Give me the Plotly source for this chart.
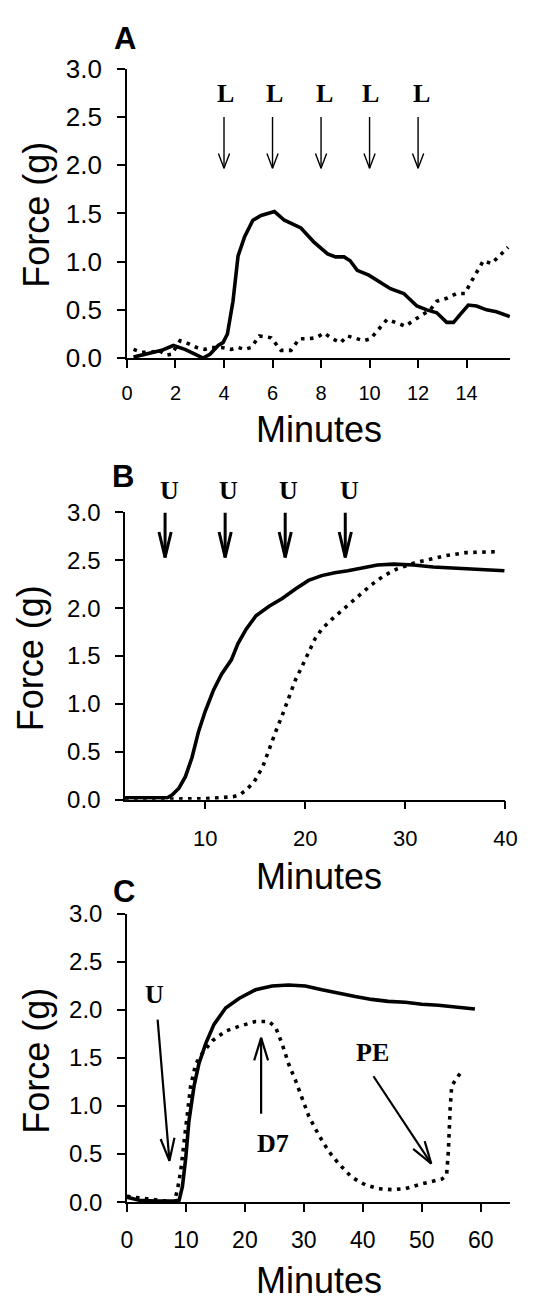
import math
import plotly.graph_objects as go

PAGE_W, PAGE_H = 538, 1314
OFF = 8  # default body margin of the html page
W, H = PAGE_W - 2 * OFF, PAGE_H - 2 * OFF

# ---------------- data ----------------
a_solid_min = [0.27, 0.75, 1.43, 1.91, 2.39, 2.8, 3.14, 3.42, 3.76, 3.96,
               4.14, 4.37, 4.58, 4.85, 5.19, 5.53, 6.08, 6.49, 7.17, 7.72,
               8.27, 8.6, 8.95, 9.2, 9.49, 9.97, 10.45, 10.86, 11.41, 11.95,
               12.36, 12.77, 13.18, 13.46, 13.73, 14.07, 14.41, 14.82, 15.23, 15.78]
a_solid_force = [0.01, 0.04, 0.08, 0.13, 0.09, 0.04, 0.0, 0.04, 0.13, 0.16,
                 0.25, 0.59, 1.06, 1.26, 1.43, 1.48, 1.52, 1.43, 1.35, 1.20,
                 1.08, 1.05, 1.05, 1.01, 0.91, 0.86, 0.79, 0.72, 0.67, 0.54,
                 0.50, 0.47, 0.37, 0.37, 0.45, 0.55, 0.54, 0.50, 0.48, 0.43]
a_dot_min = [0.27, 0.61, 1.02, 1.30, 1.64, 1.84, 2.19, 2.53, 2.87, 3.21,
             3.48, 3.89, 4.3, 4.58, 4.85, 5.12, 5.46, 5.94, 6.35, 6.76,
             7.10, 7.45, 7.79, 8.13, 8.47, 8.81, 9.08, 9.49, 9.77, 10.04,
             10.38, 10.72, 11.07, 11.48, 11.75, 12.09, 12.5, 12.77, 13.18, 13.59,
             13.93, 14.14, 14.41, 14.69, 15.03, 15.37, 15.71]
a_dot_force = [0.09, 0.06, 0.06, 0.08, 0.03, 0.04, 0.18, 0.15, 0.11, 0.09,
               0.11, 0.11, 0.09, 0.11, 0.09, 0.11, 0.23, 0.21, 0.08, 0.08,
               0.20, 0.20, 0.21, 0.26, 0.20, 0.16, 0.23, 0.20, 0.18, 0.20,
               0.30, 0.40, 0.37, 0.33, 0.38, 0.43, 0.50, 0.59, 0.62, 0.67,
               0.67, 0.77, 0.89, 1.01, 0.98, 1.06, 1.15]
a_ticks = [0, 2, 4, 6, 8, 10, 12, 14]
a_arrow_min = [4, 6, 8, 10, 12]
a_arrow_from = 2.5
a_arrow_to = 1.97
a_label_min = [4.07, 6.07, 8.16, 10.04, 12.16]
a_label_y = 2.74
a_label_text = ["L", "L", "L", "L", "L"]

b_solid_min = [2.0, 6.23, 6.72, 7.38, 8.03, 8.69, 9.34, 10.0, 10.82, 11.64,
               12.62, 13.28, 14.1, 15.08, 16.39, 17.7, 19.02, 20.33, 21.64, 22.95,
               24.26, 25.57, 27.21, 28.85, 30.82, 32.79, 34.75, 36.72, 38.69, 39.9]
b_solid_force = [0.02, 0.02, 0.05, 0.12, 0.24, 0.44, 0.71, 0.92, 1.14, 1.31,
                 1.46, 1.63, 1.78, 1.92, 2.02, 2.10, 2.20, 2.29, 2.34, 2.37,
                 2.39, 2.42, 2.45, 2.46, 2.45, 2.43, 2.42, 2.41, 2.40, 2.39]
b_dot_min = [2.0, 9.84, 12.79, 13.44, 14.1, 14.92, 15.74, 16.39, 17.05, 17.7,
             18.36, 19.02, 19.67, 20.33, 20.98, 21.64, 22.62, 23.93, 25.25, 26.56,
             27.87, 29.18, 30.82, 32.46, 34.1, 36.07, 38.03, 39.34]
b_dot_force = [0.0, 0.01, 0.03, 0.05, 0.10, 0.19, 0.34, 0.53, 0.71, 0.88,
               1.07, 1.25, 1.39, 1.53, 1.68, 1.78, 1.88, 2.00, 2.12, 2.24,
               2.34, 2.41, 2.47, 2.51, 2.55, 2.58, 2.59, 2.59]
b_ticks = [10, 20, 30, 40]
b_arrow_min = [6, 12, 18, 24]
b_arrow_from = 3.0
b_arrow_to = 2.53
b_label_min = [6.4, 12.35, 18.3, 24.4]
b_label_y = 3.23
b_label_text = ["U", "U", "U", "U"]

c_solid_min = [0, 2.08, 4.9, 8.0, 8.85, 9.4, 9.97, 10.5, 11.38, 12.2,
               13.35, 14.76, 16.73, 18.99, 21.8, 24.6, 27.4, 30.25, 33.07, 35.9,
               38.7, 41.5, 44.3, 47.2, 50.0, 52.8, 55.6, 59.0]
c_solid_force = [0.05, 0.02, 0.01, 0.01, 0.02, 0.16, 0.46, 0.84, 1.21, 1.44,
                 1.65, 1.85, 2.02, 2.12, 2.21, 2.25, 2.26, 2.25, 2.21, 2.17,
                 2.14, 2.11, 2.09, 2.08, 2.06, 2.05, 2.03, 2.01]
c_dot_min = [0, 8.0, 8.56, 9.13, 9.69, 10.25, 10.8, 11.66, 12.79, 14.48,
             16.73, 19.0, 21.8, 24.06, 25.2, 26.3, 27.4, 28.56, 29.7, 30.8,
             32.5, 34.2, 35.9, 38.1, 40.4, 42.6, 44.9, 47.2, 49.4, 51.7,
             53.4, 54.2, 54.5, 54.8, 55.07, 55.9, 57.0]
c_dot_force = [0.06, 0.0, 0.13, 0.33, 0.63, 0.94, 1.21, 1.44, 1.55, 1.68,
               1.78, 1.83, 1.88, 1.88, 1.82, 1.65, 1.44, 1.27, 1.07, 0.90,
               0.70, 0.53, 0.40, 0.26, 0.18, 0.14, 0.13, 0.14, 0.18, 0.21,
               0.24, 0.28, 0.53, 0.97, 1.21, 1.29, 1.38]
c_ticks = [0, 10, 20, 30, 40, 50, 60]
c_arrow_tail = [(5.2, 1.90), (22.75, 0.92), (41.8, 1.31)]
c_arrow_tip = [(7.2, 0.43), (22.75, 1.71), (51.6, 0.40)]
c_label_pos = [(4.6, 2.16), (24.7, 0.61), (41.7, 1.56)]
c_label_text = ["U", "D7", "PE"]

y_ticks = [0, 0.5, 1.0, 1.5, 2.0, 2.5, 3.0]

# page-pixel geometry of each plot area
panels = {
    "A": dict(x0=125, x1=522, y0=351, y1=55, xr=(0, 15.8)),
    "B": dict(x0=123, x1=517, y0=803, y1=509, xr=(2, 40)),
    "C": dict(x0=125, x1=522, y0=1215, y1=920, xr=(0, 65)),
}
yr = (0, 3.0)


def px2paper(px, py):
    return (px - OFF) / W, 1 - (py - OFF) / H


def to_paper(p, x, y):
    g = panels[p]
    px = g["x0"] + (x - g["xr"][0]) / (g["xr"][1] - g["xr"][0]) * (g["x1"] - g["x0"])
    py = g["y0"] + (y - yr[0]) / (yr[1] - yr[0]) * (g["y1"] - g["y0"])
    return px2paper(px, py)


def scales(p):
    g = panels[p]
    sx = (g["x1"] - g["x0"]) / (g["xr"][1] - g["xr"][0])
    sy = (g["y0"] - g["y1"]) / (yr[1] - yr[0])
    return sx, sy


def arrow_xy(p, tails, tips, head_len, head_half):
    sx, sy = scales(p)
    xs, ys = [], []
    for (x0, y0), (x1, y1) in zip(tails, tips):
        dxp, dyp = (x1 - x0) * sx, (y1 - y0) * sy
        L = math.hypot(dxp, dyp)
        ux, uy = dxp / L, dyp / L
        bx, by = -ux * head_len, -uy * head_len
        lx, ly = bx - uy * head_half, by + ux * head_half
        rx, ry = bx + uy * head_half, by - ux * head_half
        xs += [x0, x1, None, x1 + lx / sx, x1, x1 + rx / sx, None]
        ys += [y0, y1, None, y1 + ly / sy, y1, y1 + ry / sy, None]
    return xs, ys


fig = go.Figure()
solid = dict(color="black", width=3.6)
dotted = dict(color="black", width=3.6, dash="3.6px,5.4px")

fig.add_trace(go.Scatter(x=a_dot_min, y=a_dot_force, mode="lines", line=dotted, xaxis="x", yaxis="y"))
fig.add_trace(go.Scatter(x=a_solid_min, y=a_solid_force, mode="lines", line=solid, xaxis="x", yaxis="y"))
ax_, ay_ = arrow_xy("A", [(m, a_arrow_from) for m in a_arrow_min],
                    [(m, a_arrow_to) for m in a_arrow_min], 15, 5.8)
fig.add_trace(go.Scatter(x=ax_, y=ay_, mode="lines", line=dict(color="black", width=1.4), xaxis="x", yaxis="y"))

fig.add_trace(go.Scatter(x=b_dot_min, y=b_dot_force, mode="lines", line=dotted, xaxis="x2", yaxis="y2"))
fig.add_trace(go.Scatter(x=b_solid_min, y=b_solid_force, mode="lines", line=solid, xaxis="x2", yaxis="y2"))
bx_, by_ = arrow_xy("B", [(m, b_arrow_from) for m in b_arrow_min],
                    [(m, b_arrow_to) for m in b_arrow_min], 26, 6.3)
fig.add_trace(go.Scatter(x=bx_, y=by_, mode="lines", line=dict(color="black", width=3), xaxis="x2", yaxis="y2"))

fig.add_trace(go.Scatter(x=c_dot_min, y=c_dot_force, mode="lines", line=dotted, xaxis="x3", yaxis="y3"))
fig.add_trace(go.Scatter(x=c_solid_min, y=c_solid_force, mode="lines", line=solid, xaxis="x3", yaxis="y3"))
cx_, cy_ = arrow_xy("C", c_arrow_tail, c_arrow_tip, 23, 7.2)
fig.add_trace(go.Scatter(x=cx_, y=cy_, mode="lines", line=dict(color="black", width=2.2), xaxis="x3", yaxis="y3"))


def xaxis_cfg(p, ticks, fsize, standoff):
    g = panels[p]
    return dict(domain=[(g["x0"] - OFF) / W, (g["x1"] - OFF) / W], range=list(g["xr"]),
                tickmode="array", tickvals=ticks, ticktext=[str(t) for t in ticks],
                ticks="outside", ticklen=8, tickwidth=1.5, tickcolor="black",
                showline=True, linewidth=1.5, linecolor="black",
                showgrid=False, zeroline=False, ticklabelstandoff=standoff,
                tickfont=dict(family="Liberation Sans, Arial", size=fsize, color="black"))


def yaxis_cfg(p, fsize, anchor):
    g = panels[p]
    return dict(domain=[1 - (g["y0"] - OFF) / H, 1 - (g["y1"] - OFF) / H], range=list(yr),
                tickmode="array", tickvals=y_ticks, ticktext=[f"{v:.1f}" for v in y_ticks],
                ticks="outside", ticklen=8, tickwidth=1.5, tickcolor="black",
                showline=True, linewidth=1.5, linecolor="black",
                showgrid=False, zeroline=False, anchor=anchor, ticklabelstandoff=10,
                tickfont=dict(family="Liberation Sans, Arial", size=fsize, color="black"))


annotations = []
sans = "Liberation Sans, Arial"
serif = "Liberation Serif, Times New Roman"


def pix_ann(text, px, py, size, family=sans, angle=0):
    xp, yp = px2paper(px, py)
    annotations.append(dict(text=text, x=xp, y=yp, xref="paper", yref="paper",
                            showarrow=False, xanchor="center", yanchor="middle",
                            textangle=angle, font=dict(family=family, size=size, color="black")))


def data_ann(p, text, x, y, size):
    xp, yp = to_paper(p, x, y)
    annotations.append(dict(text=f"<b>{text}</b>", x=xp, y=yp, xref="paper", yref="paper",
                            showarrow=False, xanchor="center", yanchor="middle",
                            font=dict(family=serif, size=size, color="black")))


for m, t in zip(a_label_min, a_label_text):
    data_ann("A", t, m, a_label_y, 26)
for m, t in zip(b_label_min, b_label_text):
    data_ann("B", t, m, b_label_y, 26)
for (x, y), t in zip(c_label_pos, c_label_text):
    data_ann("C", t, x, y, 26)

pix_ann("Minutes", 324, 424, 36)
pix_ann("Minutes", 324, 882, 36)
pix_ann("Minutes", 324, 1295, 36)
pix_ann("Force (g)", 31, 204, 36, angle=-90)
pix_ann("Force (g)", 26, 658, 36, angle=-90)
pix_ann("Force (g)", 31, 1070, 36, angle=-90)
pix_ann("<b>A</b>", 123, 24, 31)
pix_ann("<b>B</b>", 121, 472, 31)
pix_ann("<b>C</b>", 122, 897, 31)

fig.update_layout(
    width=W, height=H, margin=dict(l=0, r=0, t=0, b=0),
    paper_bgcolor="white", plot_bgcolor="white", showlegend=False,
    xaxis=xaxis_cfg("A", a_ticks, 20, 8),
    yaxis=yaxis_cfg("A", 26, "x"),
    xaxis2=xaxis_cfg("B", b_ticks, 22, 10),
    yaxis2=yaxis_cfg("B", 24, "x2"),
    xaxis3=xaxis_cfg("C", c_ticks, 23, 9),
    yaxis3=yaxis_cfg("C", 24, "x3"),
    annotations=annotations,
)
fig.update_layout(xaxis=dict(anchor="y"), xaxis2=dict(anchor="y2"), xaxis3=dict(anchor="y3"))

fig.write_html("out.html")
